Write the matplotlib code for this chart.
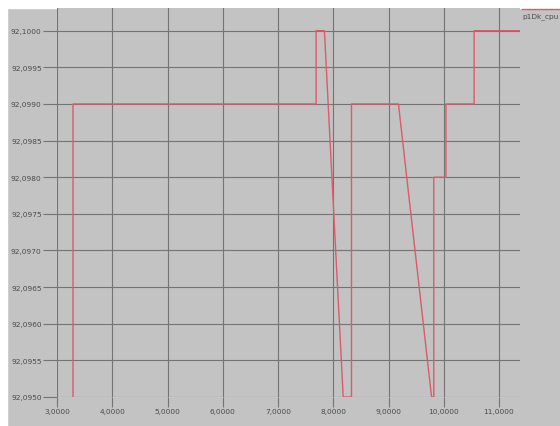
import numpy as np
import matplotlib
matplotlib.use('Agg')
import matplotlib.pyplot as plt
from matplotlib.ticker import FuncFormatter

# sampled trace (time, value)
times = [3.29, 3.29, 7.69, 7.69, 7.84, 8.18, 8.33, 8.33, 9.18, 9.78, 9.82, 9.82,
         10.04, 10.04, 10.55, 10.55, 11.38]
values = [92.0950, 92.0990, 92.0990, 92.1000, 92.1000, 92.0950, 92.0950, 92.0990,
          92.0990, 92.0950, 92.0950, 92.0980, 92.0980, 92.0990, 92.0990, 92.1000,
          92.1000]
xticks = [3, 4, 5, 6, 7, 8, 9, 10, 11]
yticks = [92.0950, 92.0955, 92.0960, 92.0965, 92.0970, 92.0975, 92.0980,
          92.0985, 92.0990, 92.0995, 92.1000]
series_name = 'p1Dk_cpu'

bg = '#c3c3c3'
grid_col = '#747474'
line_col = '#dc5a6a'

fig = plt.figure(figsize=(5.6, 4.27), dpi=100, facecolor=bg)
ax = fig.add_axes([57 / 560, 29 / 427, 463 / 560, 389 / 427])
ax.set_facecolor(bg)

ax.plot(times, values, color=line_col, lw=1.0)

ax.set_xlim(3.0, 11.38)
ax.set_ylim(92.0950, 92.10031)
ax.set_xticks(xticks)
ax.set_yticks(yticks)
fmt = FuncFormatter(lambda v, p: f'{v:.4f}'.replace('.', ','))
ax.xaxis.set_major_formatter(fmt)
ax.yaxis.set_major_formatter(fmt)
ax.tick_params(axis='y', length=10, width=0.8, color=grid_col, labelsize=5.3,
               labelcolor='#4a4a4a', pad=1)
ax.tick_params(axis='x', length=7, width=0.8, color=grid_col, labelsize=5.3,
               labelcolor='#4a4a4a', pad=1)
ax.grid(True, color=grid_col, lw=0.8)
ax.set_axisbelow(True)
for s in ax.spines.values():
    s.set_visible(False)

# legend entry in the top right corner
fig.add_artist(plt.Line2D([522 / 560, 1.0], [417 / 427, 417 / 427],
                          color=line_col, lw=1.0))
fig.text(522 / 560, 410 / 427, series_name, fontsize=5.3, color='#4a4a4a',
         va='center', ha='left')

# thin white margin at the top and left edges
fig.add_artist(plt.Rectangle((0, 418 / 427), 1, 9 / 427, color='white',
                             transform=fig.transFigure, zorder=-1))
fig.add_artist(plt.Rectangle((0, 0), 7 / 560, 1, color='white',
                             transform=fig.transFigure, zorder=-1))

fig.savefig('out.png', dpi=100, facecolor=bg)
